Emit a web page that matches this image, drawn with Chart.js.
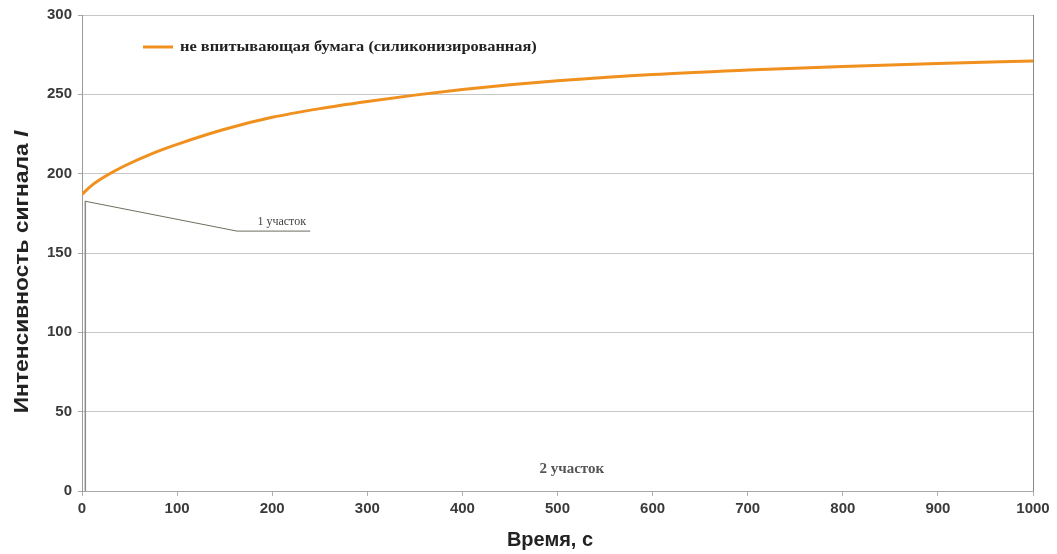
<!DOCTYPE html>
<html>
<head>
<meta charset="utf-8">
<script src="https://cdn.jsdelivr.net/npm/chart.js@4/dist/chart.umd.min.js"></script>
<style>
    html, body { margin: 0; padding: 0; background: #fff; }
    #wrap { width: 1057px; height: 554px; position: relative; }
</style>
</head>
<body>
<div id="wrap"><canvas id="chart"></canvas></div>
<script>
// данные кривой
const seriesLabel = 'не впитывающая бумага (силиконизированная)';
const timeSec = [0, 10, 25, 45, 75, 100, 150, 200, 250, 300, 350, 400, 450, 500, 600, 700, 800, 900, 1000];
const intensity = [187, 192.5, 198.5, 205, 213, 218.5, 228, 235.5, 241, 245.5, 249.5, 253, 256, 258.5, 262.5, 265.3, 267.6, 269.5, 271];

// граница участков (вертикальная линия)
const borderX = [3.5, 3.5];
const borderY = [183, 0];

// выноска "1 участок"
const leaderX = [3.5, 163, 240];
const leaderY = [182.6, 163.8, 163.8];

// подписи участков
const zoneLabels = ['1 участок', '2 участок'];
const zoneLabelX = [210, 515];
const zoneLabelY = [167.5, 11.5];

const xTicks = [0, 100, 200, 300, 400, 500, 600, 700, 800, 900, 1000];
const yTicks = [0, 50, 100, 150, 200, 250, 300];

const curveColor = '#f0901e';

Chart.defaults.font.family = '"Liberation Sans", Arial, sans-serif';

const toPoints = (xs, ys) => xs.map((x, i) => ({ x: x, y: ys[i] }));

// свои надписи: легенда внутри поля, подписи участков, заголовки осей
const overlayPlugin = {
    id: 'overlay',
    afterDatasetsDraw(chart) {
        const ctx = chart.ctx;
        const xs = chart.scales.x;
        const ys = chart.scales.y;

        ctx.save();
        // подписи участков
        ctx.textAlign = 'center';
        ctx.textBaseline = 'alphabetic';
        ctx.fillStyle = '#444';
        ctx.font = '12px "Liberation Serif", serif';
        ctx.fillText(zoneLabels[0], xs.getPixelForValue(zoneLabelX[0]), ys.getPixelForValue(zoneLabelY[0]));
        ctx.fillStyle = '#555';
        ctx.font = 'bold 15px "Liberation Serif", serif';
        ctx.fillText(zoneLabels[1], xs.getPixelForValue(zoneLabelX[1]), ys.getPixelForValue(zoneLabelY[1]));

        // легенда
        ctx.strokeStyle = curveColor;
        ctx.lineWidth = 3;
        ctx.beginPath();
        ctx.moveTo(143, 47);
        ctx.lineTo(173, 47);
        ctx.stroke();
        ctx.fillStyle = '#222';
        ctx.textAlign = 'left';
        ctx.textBaseline = 'middle';
        ctx.font = 'bold 14px "Liberation Serif", serif';
        ctx.save();
        ctx.translate(180, 47);
        ctx.scale(1.17, 1);
        ctx.fillText(seriesLabel, 0, 0);
        ctx.restore();
        ctx.restore();
    },
    afterDraw(chart) {
        const ctx = chart.ctx;
        const area = chart.chartArea;
        ctx.save();
        ctx.fillStyle = '#222';
        ctx.textBaseline = 'middle';
        ctx.textAlign = 'left';

        // заголовок оси Y с курсивной I
        const main = 'Интенсивность сигнала ';
        ctx.font = 'bold 20px "Liberation Sans", Arial, sans-serif';
        const w1 = ctx.measureText(main).width;
        ctx.font = 'italic bold 20px "Liberation Sans", Arial, sans-serif';
        const w2 = ctx.measureText('I').width;
        ctx.translate(22, 272);
        ctx.rotate(-Math.PI / 2);
        ctx.scale(1.14, 1);
        const start = -(w1 + w2) / 2;
        ctx.font = 'bold 20px "Liberation Sans", Arial, sans-serif';
        ctx.fillText(main, start, 0);
        ctx.font = 'italic bold 20px "Liberation Sans", Arial, sans-serif';
        ctx.fillText('I', start + w1, 0);
        ctx.restore();

        // заголовок оси X
        ctx.save();
        ctx.fillStyle = '#222';
        ctx.textAlign = 'center';
        ctx.textBaseline = 'middle';
        ctx.font = 'bold 20px "Liberation Sans", Arial, sans-serif';
        ctx.fillText('Время, с', 550, 540);
        ctx.restore();
    }
};

new Chart(document.getElementById('chart').getContext('2d'), {
    type: 'line',
    data: {
        datasets: [
            {
                label: 'граница',
                data: toPoints(borderX, borderY),
                borderColor: '#8c8c8c',
                borderWidth: 1.5,
                pointRadius: 0,
                tension: 0,
            },
            {
                label: 'выноска',
                data: toPoints(leaderX, leaderY),
                borderColor: '#6e6e5e',
                borderWidth: 1,
                pointRadius: 0,
                tension: 0,
            },
            {
                label: seriesLabel,
                data: toPoints(timeSec, intensity),
                borderColor: curveColor,
                borderWidth: 3,
                pointRadius: 0,
                cubicInterpolationMode: 'monotone',
            },
        ]
    },
    options: {
        responsive: true,
        maintainAspectRatio: false,
        animation: false,
        layout: {
            padding: { left: 0, top: 13, right: 24, bottom: 0 }
        },
        plugins: {
            legend: { display: false },
            tooltip: { enabled: false },
        },
        scales: {
            x: {
                type: 'linear',
                min: 0,
                max: 1000,
                afterBuildTicks: scale => { scale.ticks = xTicks.map(v => ({ value: v })); },
                afterFit: scale => { scale.height = 63; },
                ticks: {
                    color: '#3a3a3a',
                    padding: 4,
                    maxRotation: 0,
                    font: { size: 15, weight: 'bold' },
                    callback: value => String(value),
                },
                grid: {
                    drawOnChartArea: true,
                    color: ctx => (ctx.tick && ctx.tick.value === 1000 ? '#8a8a8a' : 'rgba(0,0,0,0)'),
                    tickColor: '#b0b0b0',
                    tickLength: 5,
                },
                border: { color: '#a8a8a8', width: 1 },
            },
            y: {
                min: 0,
                max: 300,
                afterBuildTicks: scale => { scale.ticks = yTicks.map(v => ({ value: v })); },
                afterFit: scale => { scale.width = 82; },
                ticks: {
                    color: '#3a3a3a',
                    padding: 6,
                    font: { size: 15, weight: 'bold' },
                    callback: value => String(value),
                },
                grid: {
                    color: ctx => (ctx.tick && ctx.tick.value === 0 ? 'rgba(0,0,0,0)' : '#c6c6c6'),
                    tickColor: '#a8a8a8',
                    tickLength: 4,
                },
                border: { color: '#9a9a9a', width: 1 },
            }
        }
    },
    plugins: [overlayPlugin]
});
</script>
</body>
</html>
